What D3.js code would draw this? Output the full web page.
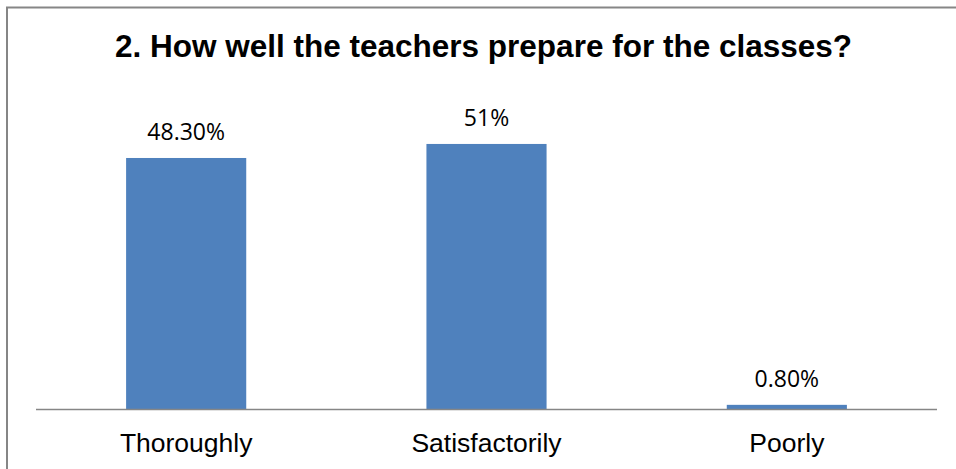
<!DOCTYPE html>
<html>
<head>
<meta charset="utf-8">
<script src="https://cdn.jsdelivr.net/npm/d3@7"></script>
<style>
  html, body { margin: 0; padding: 0; background: #fff; }
  svg { display: block; }
</style>
</head>
<body>
<svg id="chart" width="956" height="469"></svg>
<script>
const titleText = "2. How well the teachers prepare for the classes?";
const categories = ["Thoroughly", "Satisfactorily", "Poorly"];
const values = [48.3, 51, 0.8];
const valueLabels = ["48.30%", "51%", "0.80%"];

const svg = d3.select("#chart");
const W = 956, H = 469;

// outer chart border (extends past right/bottom edges)
svg.append("rect")
  .attr("x", 7).attr("y", 7.5)
  .attr("width", 960).attr("height", 480)
  .attr("fill", "#fff")
  .attr("stroke", "#868686")
  .attr("stroke-width", 2);

const plotLeft = 36, plotRight = 937, baseY = 409;

const x = d3.scaleBand()
  .domain(categories)
  .range([plotLeft, plotRight])
  .paddingInner(0.6)
  .paddingOuter(0.3);

const y = d3.scaleLinear()
  .domain([0, 60])
  .range([baseY, baseY - 60 * 5.197]);

// title
svg.append("text")
  .attr("x", 483.5)
  .attr("y", 56.5)
  .attr("text-anchor", "middle")
  .attr("font-family", "Liberation Sans, Arial, sans-serif")
  .attr("font-weight", "bold")
  .attr("font-size", 31.5)
  .attr("fill", "#000")
  .text(titleText);

const data = categories.map((c, i) => ({ c, v: values[i], label: valueLabels[i] }));

// bars
svg.selectAll("rect.bar")
  .data(data)
  .enter().append("rect")
  .attr("class", "bar")
  .attr("x", d => x(d.c))
  .attr("y", d => y(d.v))
  .attr("width", x.bandwidth())
  .attr("height", d => y(0) - y(d.v))
  .attr("fill", "#4F81BD");

// axis
const xAxis = d3.axisBottom(x).tickSize(0).tickPadding(0);
const ax = svg.append("g")
  .attr("transform", `translate(0,${baseY})`)
  .call(xAxis);
ax.select(".domain")
  .attr("d", `M${plotLeft},0.5H${plotRight}`)
  .attr("stroke", "#868686")
  .attr("stroke-width", 1.5);
ax.selectAll(".tick text")
  .attr("y", 43)
  .attr("dy", 0)
  .attr("font-family", "Liberation Sans, Arial, sans-serif")
  .attr("font-size", 26.5)
  .attr("fill", "#000");

// value labels
svg.selectAll("text.val")
  .data(data)
  .enter().append("text")
  .attr("class", "val")
  .attr("x", d => x(d.c) + x.bandwidth() / 2)
  .attr("y", d => y(d.v) - 17.5)
  .attr("text-anchor", "middle")
  .attr("font-family", "Open Sans, sans-serif")
  .attr("font-size", 23)
  .attr("fill", "#000")
  .text(d => d.label);
</script>
</body>
</html>
